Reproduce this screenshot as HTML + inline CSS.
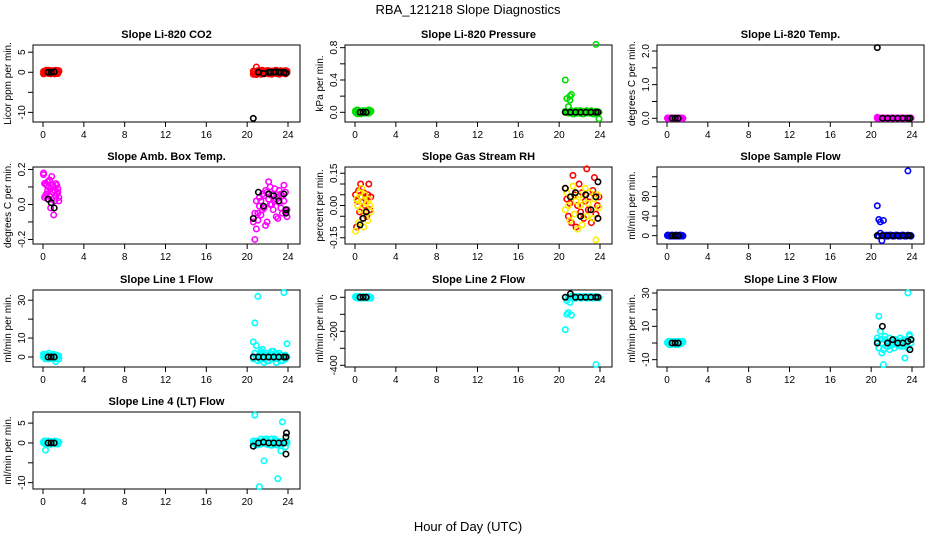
<!DOCTYPE html>
<html><head><meta charset="utf-8"><style>
html,body{margin:0;padding:0;background:#fff}
svg{display:block;font-family:"Liberation Sans",sans-serif}
</style></head><body>
<svg id="chart" width="936" height="540" xmlns="http://www.w3.org/2000/svg">
<rect width="936" height="540" fill="#fff"/>
<text x="468" y="14" text-anchor="middle" font-size="13">RBA_121218  Slope Diagnostics</text>
<text x="468" y="531" text-anchor="middle" font-size="13">Hour of Day (UTC)</text>
</svg>
<script>
const allHours=[0.05,0.15,0.25,0.35,0.45,0.55,0.65,0.75,0.85,0.95,1.05,1.15,1.25,1.35,1.45,1.55,20.6,20.75,20.9,21.05,21.2,21.35,21.5,21.65,21.8,21.95,22.1,22.25,22.4,22.55,22.7,22.85,23.0,23.15,23.3,23.45,23.6,23.75,23.9];
const blackHours=[0.5,0.8,1.1,20.6,21.1,21.6,22.1,22.6,23.1,23.6,23.8];
const xTicks=[0,4,8,12,16,20,24];

const titles=["Slope Li-820 CO2","Slope Li-820 Pressure","Slope Li-820 Temp.","Slope Amb. Box Temp.","Slope Gas Stream RH","Slope Sample Flow","Slope Line 1 Flow","Slope Line 2 Flow","Slope Line 3 Flow","Slope Line 4 (LT) Flow"];
const yTitles=["Licor ppm per min.","kPa per min.","degrees C per min.","degrees C per min.","percent per min.","ml/min per min.","ml/min per min.","ml/min per min.","ml/min per min.","ml/min per min."];
const yMin=[-12.4,-0.12,-0.11,-0.226,-0.179,-17,-5.3,-410,-14.4,-11.6];
const yMax=[6.8,0.833,2.178,0.214,0.179,140,35.4,43,31.8,7.8];
const yTicks=[[-10,-5,0,5],[0,0.2,0.4,0.6,0.8],[0,0.5,1,1.5,2],[-0.2,-0.1,0,0.1,0.2],[-0.15,-0.1,-0.05,0,0.05,0.1,0.15],[0,20,40,60,80,100,120],[0,10,20,30],[-400,-300,-200,-100,0],[-10,0,10,20,30],[-10,-5,0,5]];
const yTickLabels=[["-10","","0","5"],["0.0","","0.4","","0.8"],["0.0","","1.0","","2.0"],["-0.2","","0.0","","0.2"],["-0.15","","","0.00","","","0.15"],["0","","40","","80","",""],["0","10","","30"],["-400","","-200","","0"],["-10","","10","","30"],["-10","","0","5"]];
const colors1=["#ff0000","#00e000","#ff00ff","#ff00ff","#ff0000","#0000ff","#00ffff","#00ffff","#00ffff","#00ffff"];
const colors2=["#ff0000","#00e000","#ff00ff","#ff00ff","#ffee00","#0000ff","#00ffff","#00ffff","#00ffff","#00ffff"];

const vals1=[
[0.2,-0.3,0.4,0.1,-0.2,0.5,0.3,-0.4,0.2,0.4,-0.1,0.3,0.5,-0.3,0.1,0.4,-0.5,0.2,-0.6,0.4,-0.3,0.1,0.5,-0.4,0.2,-0.2,0.4,0.1,-0.5,0.3,-0.1,0.5,-0.3,0.2,0.4,-0.2,0.1,-0.4,0.3],
[0.02,-0.01,0.03,0,0.01,-0.02,0.01,0.02,-0.01,0,0.02,0.01,-0.01,0.03,0.01,0.02,0.4,0.17,0.07,0.2,0.22,0.01,-0.02,0.02,0,-0.01,0.02,0.01,-0.02,0.01,0.02,0,-0.01,0.02,0.01,-0.02,0.84,0.01,-0.08],
[0,0.01,0,0,0.01,0,0,0.01,0,0,0.01,0,0,0.01,0,0,0.03,0.01,0,0,0.01,0,0,0.01,0,0,0.01,0,0,0.01,0,0,0.01,0,0,0.01,0,0,0.01],
[0.18,0.12,0.05,0.11,0.08,0.03,0.14,-0.02,0.16,0.07,0.1,0.02,0.12,0.06,0.09,0.04,-0.08,-0.2,-0.14,-0.05,-0.01,0.02,-0.03,0.05,-0.12,0.07,0.03,0.1,0.0,0.06,0.02,-0.07,0.04,0.08,-0.02,0.05,0.11,-0.04,-0.07],
[0.05,-0.1,0.02,0.07,-0.03,0.1,0.04,-0.06,0.06,0.0,0.03,-0.05,0.05,0.1,-0.02,0.04,0.08,0.03,-0.05,0.01,-0.08,0.14,0.05,-0.1,0.0,0.1,-0.03,0.06,-0.06,0.02,0.17,-0.02,0.04,-0.08,0.07,0.13,-0.04,0.0,0.04],
[0,1,-1,0,1,0,-1,0,1,0,-1,0,1,0,0,-1,61,33,5,-10,31,0,1,-1,0,1,0,-1,0,1,0,-1,0,1,0,-1,132,0,-1],
[1.5,0.5,-1,1,0,2,-0.5,1,0.5,-1,1.5,0,-2.5,1,0.5,-1,8,18,6,32,-1,2,4,-3,1,0,-2,2,-1,3,0,-3,1,2,-2,0,34,-1,7],
[0,5,-5,0,5,0,-5,0,5,0,-5,0,5,0,0,-5,-190,-100,-90,-30,-105,0,5,-5,0,5,0,-5,0,5,0,-5,0,5,0,-5,-395,0,-5],
[0,1,-1,0.5,0,-0.5,1,0,-1,0.5,0,1,-0.5,0,1,0.5,1,16,7,-6,-13,2,-2,0,-4,1,-1,2,0,-1,1,-2,0,2,-9,-1,30,5,2],
[0,0.5,-1.8,0.3,0,0.5,-0.3,0,0.4,0.2,0,0.5,-0.2,0,0.3,0.2,0,7,0.5,-0.5,-11,1,0,-4.5,0.5,1,0,-0.5,1,0,0.5,-0.5,-9,0,-2,5.3,0,-1,0]
];
const vals2=[
[-0.4,0.3,-0.1,0.5,0.2,-0.3,0,0.4,-0.2,0.1,0.3,-0.4,0.2,0.1,-0.3,0.2,0.3,-0.4,1.3,-0.2,0.5,-0.5,0,0.3,-0.3,0.4,-0.4,0.2,0.3,-0.2,0.4,-0.3,0.1,-0.5,0,0.3,-0.3,0.4,-0.1],
[0,0.01,-0.02,0.02,0,0.01,-0.01,0,0.02,-0.01,0.01,0,0.02,-0.01,0,0.01,0.01,0,-0.01,0.15,0.02,-0.02,0.01,0,-0.01,0.02,0,-0.02,0.01,0,0.02,-0.01,0,0.01,-0.02,0,0.01,-0.01,0],
[0.01,0,0.01,0,0,0.01,0,0,0.01,0,0,0.01,0,0,0.01,0,0,0.01,0,0,0.01,0,0,0.01,0,0,0.01,0,0,0.01,0,0,0.01,0,0,0.01,0,0,0.01],
[0.17,0.04,0.12,0.06,0.13,0.1,0.05,0.09,0.03,0.11,-0.06,0.08,0.05,0.11,0.07,0.02,-0.1,-0.05,0.02,-0.09,0.04,-0.06,0.06,-0.02,0.08,-0.1,0.13,0.0,0.05,-0.03,0.09,0.03,-0.08,0.01,0.06,-0.05,0.02,0.07,-0.03],
[-0.12,0.03,0.0,-0.08,0.06,-0.02,0.08,0.02,-0.1,0.05,-0.04,0.01,-0.07,0.03,0.0,-0.03,-0.02,0.06,0.0,-0.07,0.04,0.09,-0.04,0.02,-0.11,0.05,0.0,-0.09,0.03,0.08,-0.05,0.01,0.06,-0.02,-0.06,0.03,-0.16,0.05,-0.01],
[1,0,0,-1,0,1,0,0,-1,1,0,0,-1,1,0,0,0,-1,28,0,1,0,-1,0,1,0,-1,0,1,0,-1,0,1,0,-1,0,1,0,0],
[0,1,-0.5,0.5,1,-1,0,0.5,1,-0.5,0,1,-1,0.5,0,0.5,-1,2,0,-2,1,3,-1,0,2,-2,1,0,3,-1,0,2,-1,0,1,-2,0,1,0],
[5,0,0,-5,0,5,0,0,-5,5,0,0,-5,5,0,0,0,-20,-5,0,5,0,-5,0,5,0,-5,0,5,0,-5,0,5,0,-5,0,5,0,0],
[0.5,-0.5,0,1,-1,0,0.5,-0.5,0,1,-1,0.5,0,-0.5,0,1,3,-3,2,0,-4,4,1,-2,3,-1,0,-3,2,1,-1,3,0,-2,1,2,-3,4,0],
[0.3,0,-0.3,0.5,0,0.2,0,-0.4,0.3,0,0.2,-0.2,0.4,0,-0.3,0.2,0.5,0,-0.5,0.3,0,-0.3,0.5,0,1,-0.4,0.2,0,-0.6,0.3,1,0,-0.5,0.4,0,-0.2,0.3,0,0.2]
];
const blackVals=[
[0,0,0.1,-11.5,0,-0.3,0,0,0,0,-0.2],
[0,0,0,0,0,0,0,0,0,0,0],
[0,0,0,2.1,0,0,0,0,0,0,0],
[0.03,0.01,-0.02,-0.08,0.07,-0.01,0.06,0.05,0.02,0.06,-0.05],
[-0.09,-0.06,-0.03,0.08,0.04,0.06,-0.05,0.05,-0.02,0.04,0.11],
[0,0,0,0,0,0,0,0,0,0,0],
[0,0,0,0,0,0,0,0,0,0,0],
[0,0,0,0,20,0,0,0,0,0,0],
[0,0,0,0,10,0,2,0,0,1,-4],
[0,0,0,-0.8,0,0.2,0,0,0,0,1.5]
];
const extraBlackHours=[[22.3,22.8,23.3],[],[],[23.8],[23.8],[],[],[],[23.9],[23.85,23.8]];
const extraBlackVals=[[0,0.1,0],[],[],[-0.03],[-0.06],[],[],[],[2],[2.5,-2.8]];

const NS="http://www.w3.org/2000/svg";
const svg=document.getElementById('chart');
const colLeft=[33,345,657], boxW=267;
const rowTop=[45,167,290,412], boxH=77;
function mk(tag,attrs,parent){const e=document.createElementNS(NS,tag);for(const k in attrs)e.setAttribute(k,attrs[k]);(parent||svg).appendChild(e);return e;}

titles.forEach((title,i)=>{
  const L=colLeft[i%3], T=rowTop[Math.floor(i/3)], R=L+boxW, B=T+boxH;
  const xs=h=>L+10+(h/24)*(boxW-22);
  const ys=v=>B-(v-yMin[i])/(yMax[i]-yMin[i])*boxH;
  const g=mk('g',{});
  
  
  const t=mk('text',{x:(L+R)/2,y:T-7,'text-anchor':'middle','font-size':'11','font-weight':'bold'},g);
  t.textContent=title;
  
  
  const yt=mk('text',{transform:`translate(${L-22},${(T+B)/2}) rotate(-90)`,'text-anchor':'middle','font-size':'10'},g);
  yt.textContent=yTitles[i];
  
  
  const box=mk('rect',{x:L,y:T,width:boxW,height:boxH,fill:'none',stroke:'#000','stroke-width':1},g);
  
  
  xTicks.forEach(h=>{
    const x=xs(h);
    mk('line',{x1:x,x2:x,y1:B,y2:B+5,stroke:'#000'},g);
    const lb=mk('text',{x:x,y:B+16,'text-anchor':'middle','font-size':'10'},g);
    lb.textContent=h;
    
    
  });
  yTicks[i].forEach((v,k)=>{
    const y=ys(v);
    mk('line',{x1:L-5,x2:L,y1:y,y2:y,stroke:'#000'},g);
    if(yTickLabels[i][k]){
      const lb=mk('text',{transform:`translate(${L-8},${y}) rotate(-90)`,'text-anchor':'middle','font-size':'10'},g);
      lb.textContent=yTickLabels[i][k];
      
      
    }
  });
  const pts=(hours,vals,color,name)=>{
    hours.forEach((h,k)=>{
      if(vals[k]===undefined)return;
      const c=mk('circle',{cx:xs(h),cy:ys(vals[k]),r:2.7,fill:'none',stroke:color,'stroke-width':1.6},g);
      
      
    });
  };
  pts(allHours,vals1[i],colors1[i],'data-point');
  pts(allHours,vals2[i],colors2[i],'data-point');
  pts(blackHours,blackVals[i],'#000','black-point');
  pts(extraBlackHours[i],extraBlackVals[i],'#000','black-point');
});
</script>
</body></html>
